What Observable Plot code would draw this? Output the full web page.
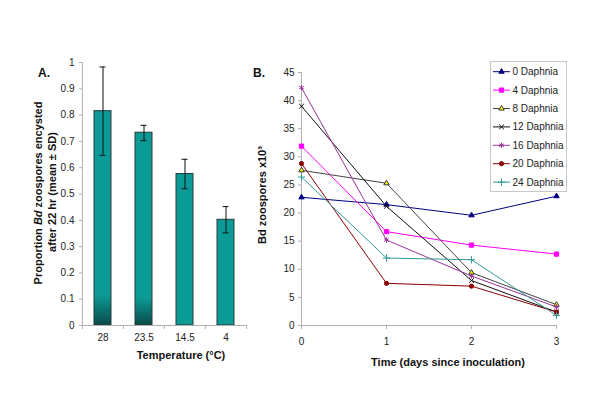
<!DOCTYPE html>
<html>
<head>
<meta charset="utf-8">
<script src="https://cdn.jsdelivr.net/npm/d3@7"></script>
<script src="https://cdn.jsdelivr.net/npm/@observablehq/plot@0.6"></script>
<style>
  html, body { margin: 0; padding: 0; background: #fff; }
  #wrap { position: relative; width: 600px; height: 420px; overflow: hidden; background: #fff; }
  #wrap svg { position: absolute; top: 0; }
</style>
</head>
<body>
<div id="wrap"></div>
<script>
// ---------- Panel A data ----------
const tempCats = ["28", "23.5", "14.5", "4"];
const encystMean = [0.815, 0.733, 0.576, 0.402];
const encystLo = [0.647, 0.703, 0.520, 0.352];
const encystHi = [0.983, 0.761, 0.632, 0.452];
const yTicksA = [0, 0.1, 0.2, 0.3, 0.4, 0.5, 0.6, 0.7, 0.8, 0.9, 1];

// ---------- Panel B data ----------
const days = [0, 1, 2, 3];
const seriesNames = ["0 Daphnia", "4 Daphnia", "8 Daphnia", "12 Daphnia", "16 Daphnia", "20 Daphnia", "24 Daphnia"];
const daphnia0 = [22.8, 21.5, 19.6, 23.0];
const daphnia4 = [31.9, 16.7, 14.3, 12.7];
const daphnia8 = [27.6, 25.3, 9.4, 3.7];
const daphnia12 = [39.0, 21.2, 8.0, 2.4];
const daphnia16 = [42.3, 15.2, 8.8, 3.3];
const daphnia20 = [28.8, 7.5, 7.0, 2.4];
const daphnia24 = [26.4, 12.0, 11.7, 1.8];
const yTicksB = [0, 5, 10, 15, 20, 25, 30, 35, 40, 45];

const seriesValues = [daphnia0, daphnia4, daphnia8, daphnia12, daphnia16, daphnia20, daphnia24];
const seriesStyle = [
  {line: "#000080", symbol: "triangle", fill: "#000080", stroke: "#000080", r: 2.0},
  {line: "#ff00ff", symbol: "square", fill: "#ff00ff", stroke: "#ff00ff", r: 2.4},
  {line: "#444444", symbol: "triangle", fill: "#ffff00", stroke: "#333333", r: 2.0},
  {line: "#111111", symbol: "times", fill: "none", stroke: "#111111", r: 2.3},
  {line: "#993399", symbol: "asterisk", fill: "none", stroke: "#993399", r: 2.5},
  {line: "#8b0000", symbol: "circle", fill: "#8b0000", stroke: "#8b0000", r: 2.1},
  {line: "#339999", symbol: "plus", fill: "none", stroke: "#339999", r: 2.5}
];

const FONT = "'Liberation Sans', Arial, sans-serif";
const AXIS = "#b0b0b0";
const wrap = document.getElementById("wrap");

// ---------- Panel A ----------
const barData = tempCats.map((t, i) => ({temp: t, mean: encystMean[i], lo: encystLo[i], hi: encystHi[i]}));
const stepA = 165 / 4;
const A = Plot.plot({
  width: 250, height: 420,
  marginLeft: 82, marginRight: 3, marginTop: 62, marginBottom: 95,
  style: {fontFamily: FONT, fontSize: "10px", color: "#222", background: "transparent", overflow: "visible"},
  x: {type: "band", domain: tempCats, paddingInner: 0.58, paddingOuter: 0.29, axis: null},
  y: {domain: [0, 1], axis: null},
  marks: [
    Plot.barY(barData, {x: "temp", y: "mean", fill: "#0b9a96", stroke: "#2a3a3a", strokeWidth: 1}),
    Plot.ruleX(barData, {x: "temp", y1: "lo", y2: "hi", stroke: "#111", strokeWidth: 1}),
    Plot.tickY(barData, {x: "temp", y: "lo", stroke: "#111", insetLeft: 5.5, insetRight: 5.5}),
    Plot.tickY(barData, {x: "temp", y: "hi", stroke: "#111", insetLeft: 5.5, insetRight: 5.5}),
    Plot.ruleY([0], {stroke: AXIS}),
    Plot.ruleX([tempCats[0]], {x: d => d, y1: 0, y2: 1, dx: -stepA / 2, stroke: AXIS}),
    Plot.ruleX(tempCats, {x: d => d, y1: 0, y2: -0.015, dx: -stepA / 2, stroke: AXIS}),
    Plot.ruleX([tempCats[tempCats.length - 1]], {x: d => d, y1: 0, y2: -0.015, dx: stepA / 2, stroke: AXIS}),
    Plot.axisY({ticks: yTicksA, tickSize: 3, tickPadding: 5, stroke: AXIS, label: null, tickFormat: d => String(+d.toFixed(1)), fill: "#222"}),
    Plot.axisX({tickSize: 0, tickPadding: 8, label: null, fill: "#222"})
  ]
});
A.style.left = "0px";
wrap.appendChild(A);

// gradient shading on the first two bars (as in the reference rendering)
const sA = d3.select(A);
const defs = sA.insert("defs", ":first-child");
const grad = defs.append("linearGradient").attr("id", "barShade").attr("x1", 0).attr("y1", 0).attr("x2", 0).attr("y2", 1);
grad.append("stop").attr("offset", "0.86").attr("stop-color", "#0b9a96");
grad.append("stop").attr("offset", "1").attr("stop-color", "#0a4a48");
sA.select("g[aria-label=bar]").selectAll("rect").filter((d, i) => i < 2).attr("fill", "url(#barShade)");

sA.append("text").attr("x", 38).attr("y", 77).attr("text-anchor", "start").attr("font-family", FONT).attr("font-size", 12)
  .attr("font-weight", "bold").attr("fill", "#111").text("A.");
sA.append("text").attr("x", 181).attr("y", 359).attr("text-anchor", "middle").attr("font-family", FONT)
  .attr("font-size", 11).attr("font-weight", "bold").attr("fill", "#111").text("Temperature (°C)");
const yt1 = sA.append("text").attr("transform", "translate(42,193) rotate(-90)").attr("text-anchor", "middle")
  .attr("font-family", FONT).attr("font-size", 11).attr("font-weight", "bold").attr("fill", "#111");
yt1.append("tspan").text("Proportion ");
yt1.append("tspan").attr("font-style", "italic").text("Bd");
yt1.append("tspan").text(" zoospores encysted");
sA.append("text").attr("transform", "translate(56,192) rotate(-90)").attr("text-anchor", "middle")
  .attr("font-family", FONT).attr("font-size", 11).attr("font-weight", "bold").attr("fill", "#111")
  .text("after 22 hr (mean ± SD)");

// ---------- Panel B ----------
const seriesMarks = [];
seriesNames.forEach((name, s) => {
  const rows = days.map((d, i) => ({day: d, value: seriesValues[s][i]}));
  const st = seriesStyle[s];
  seriesMarks.push(Plot.line(rows, {x: "day", y: "value", stroke: st.line, strokeWidth: 1}));
  seriesMarks.push(Plot.dot(rows, {x: "day", y: "value", symbol: st.symbol, fill: st.fill, stroke: st.stroke, r: st.r, strokeWidth: 1}));
});

const B = Plot.plot({
  width: 350, height: 420,
  marginLeft: 51, marginRight: 44, marginTop: 72, marginBottom: 95,
  style: {fontFamily: FONT, fontSize: "10px", color: "#222", background: "transparent", overflow: "visible"},
  x: {domain: [0, 3], axis: null},
  y: {domain: [0, 45], axis: null},
  marks: [
    Plot.ruleY([0], {stroke: AXIS}),
    Plot.ruleX([0], {stroke: AXIS}),
    Plot.axisY({ticks: yTicksB, tickSize: 3, tickPadding: 4, stroke: AXIS, label: null, fill: "#222"}),
    Plot.axisX({ticks: days, tickSize: 4, tickPadding: 8, stroke: AXIS, label: null, tickFormat: d => String(d), fill: "#222"}),
    ...seriesMarks
  ]
});
B.style.left = "250px";
wrap.appendChild(B);

const sB = d3.select(B);
sB.append("text").attr("x", 3).attr("y", 77).attr("text-anchor", "start").attr("font-family", FONT).attr("font-size", 12)
  .attr("font-weight", "bold").attr("fill", "#111").text("B.");
sB.append("text").attr("x", 198).attr("y", 366).attr("text-anchor", "middle").attr("font-family", FONT)
  .attr("font-size", 11).attr("font-weight", "bold").attr("fill", "#111").text("Time (days since inoculation)");
sB.append("text").attr("transform", "translate(16,195) rotate(-90)").attr("text-anchor", "middle")
  .attr("font-family", FONT).attr("font-size", 11).attr("font-weight", "bold").attr("fill", "#111")
  .text("Bd zoospores x10³");

// legend
const symMap = {triangle: d3.symbolTriangle, square: d3.symbolSquare, times: d3.symbolTimes,
  asterisk: d3.symbolAsterisk, circle: d3.symbolCircle, plus: d3.symbolPlus};
const lg = sB.append("g").attr("transform", "translate(240.5,61.5)");
lg.append("rect").attr("width", 76).attr("height", 130).attr("fill", "#fff").attr("stroke", "#c8c8c8");
seriesNames.forEach((name, s) => {
  const st = seriesStyle[s];
  const g = lg.append("g").attr("transform", `translate(0,${10.2 + s * 18.4})`);
  g.append("line").attr("x1", 2.5).attr("x2", 19.5).attr("stroke", st.line);
  g.append("path").attr("transform", "translate(11,0)")
    .attr("d", d3.symbol(symMap[st.symbol], Math.PI * st.r * st.r)())
    .attr("fill", st.fill).attr("stroke", st.stroke);
  g.append("text").attr("x", 22).attr("dy", "0.35em").attr("text-anchor", "start").attr("font-family", FONT).attr("font-size", 10)
    .attr("fill", "#222").text(name);
});
</script>
</body>
</html>
